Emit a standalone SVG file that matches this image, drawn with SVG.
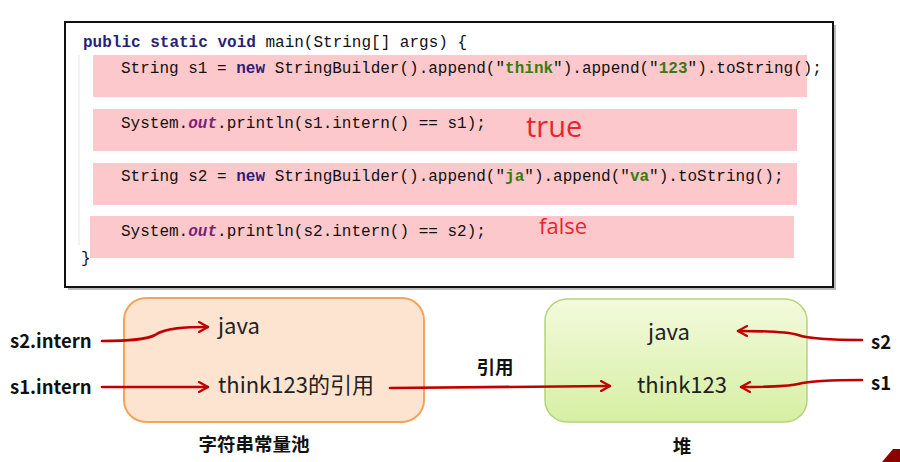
<svg xmlns="http://www.w3.org/2000/svg" width="900" height="462" viewBox="0 0 900 462">
<style>
.code{font-family:"Liberation Mono","DejaVu Sans Mono",monospace;font-size:16px;fill:#111}
.kw{fill:#2a1f7a;font-weight:bold}
.str{fill:#3a7a10;font-weight:bold}
.fld{fill:#7a1f7a;font-style:italic;font-weight:bold}
.band{fill:#fdc8cb}
.res{font-family:"Open Sans","Noto Sans",sans-serif;fill:#e5262e}
.lbl{font-family:"Noto Sans CJK SC","Noto Sans",sans-serif;font-size:22px;fill:#222}
.bold{font-family:"Noto Sans CJK SC","Noto Sans",sans-serif;font-size:18.5px;font-weight:bold;fill:#111}
.arr{fill:none;stroke:#c00000;stroke-width:2.6;stroke-linecap:round}
</style>
<defs>
<marker id="ah" viewBox="0 0 12 12" refX="10" refY="6" markerWidth="12" markerHeight="12" markerUnits="userSpaceOnUse" orient="auto">
<path d="M1,1 L10,6 L1,11" fill="none" stroke="#c00000" stroke-width="2.2" stroke-linecap="round" stroke-linejoin="round"/>
</marker>
<linearGradient id="green" x1="0" y1="0" x2="0" y2="1">
<stop offset="0" stop-color="#f3fadc"/>
<stop offset="1" stop-color="#d6efa4"/>
</linearGradient>
</defs>
<rect width="900" height="462" fill="#ffffff"/>
<g id="code">
<rect x="68" y="25" width="768" height="265" fill="#bbbbbb"/>
<rect x="65" y="22" width="768" height="265" fill="#ffffff" stroke="#111" stroke-width="2"/>
<line x1="79" y1="55" x2="79" y2="245" stroke="#e6e6e6" stroke-width="1"/>
<rect class="band" x="93" y="55" width="714" height="42"/>
<rect class="band" x="93" y="109" width="704" height="42"/>
<rect class="band" x="93" y="163" width="704" height="42"/>
<rect class="band" x="90" y="216" width="704" height="42"/>
<text class="code" x="83" y="47" xml:space="preserve"><tspan class="kw">public static void</tspan> main(String[] args) {</text>
<text class="code" x="121" y="73" xml:space="preserve">String s1 = <tspan class="kw">new</tspan> StringBuilder().append("<tspan class="str">think</tspan>").append("<tspan class="str">123</tspan>").toString();</text>
<text class="code" x="121" y="128" xml:space="preserve">System.<tspan class="fld">out</tspan>.println(s1.intern() == s1);</text>
<text class="code" x="121" y="181" xml:space="preserve">String s2 = <tspan class="kw">new</tspan> StringBuilder().append("<tspan class="str">ja</tspan>").append("<tspan class="str">va</tspan>").toString();</text>
<text class="code" x="121" y="236" xml:space="preserve">System.<tspan class="fld">out</tspan>.println(s2.intern() == s2);</text>
<text class="code" x="81" y="263">}</text>
<text class="res" x="526" y="137" font-size="29">true</text>
<text class="res" x="539" y="234" font-size="22">false</text>
</g>
<g id="pool">
<rect x="124" y="298" width="300" height="124" rx="22" fill="#fde4d0" stroke="#f4a35a" stroke-width="2"/>
<text class="lbl" x="218" y="334">java</text>
<text class="lbl" x="218" y="393">think123的引用</text>
<text class="bold" x="254" y="451" text-anchor="middle">字符串常量池</text>
</g>
<g id="heap">
<rect x="545" y="299" width="262" height="123" rx="22" fill="url(#green)" stroke="#b5d47a" stroke-width="1.5"/>
<text class="lbl" x="669" y="340" text-anchor="middle">java</text>
<text class="lbl" x="682" y="393" text-anchor="middle">think123</text>
<text class="bold" x="682" y="453" text-anchor="middle">堆</text>
</g>
<g id="labels">
<text class="bold" x="10" y="348">s2.intern</text>
<text class="bold" x="10" y="394">s1.intern</text>
<text class="bold" x="495" y="374" text-anchor="middle">引用</text>
<text class="bold" x="871" y="349">s2</text>
<text class="bold" x="871" y="390">s1</text>
</g>
<g id="connectors">
<path class="arr" marker-end="url(#ah)" d="M102,341 C130,341 148,339 155,335 C165,328 185,327 208,327"/>
<path class="arr" marker-end="url(#ah)" d="M102,387 L208,387"/>
<path class="arr" marker-end="url(#ah)" d="M390,388 L610,386"/>
<path class="arr" marker-end="url(#ah)" d="M862,340 C830,340 810,339 798,335 C785,331 760,331 738,331"/>
<path class="arr" marker-end="url(#ah)" d="M862,380 C830,380 810,381 798,384 C785,387 760,387 741,387"/>
</g>
<polygon points="882,462 893,449 900,449 900,462" fill="#8b0000"/>
</svg>
